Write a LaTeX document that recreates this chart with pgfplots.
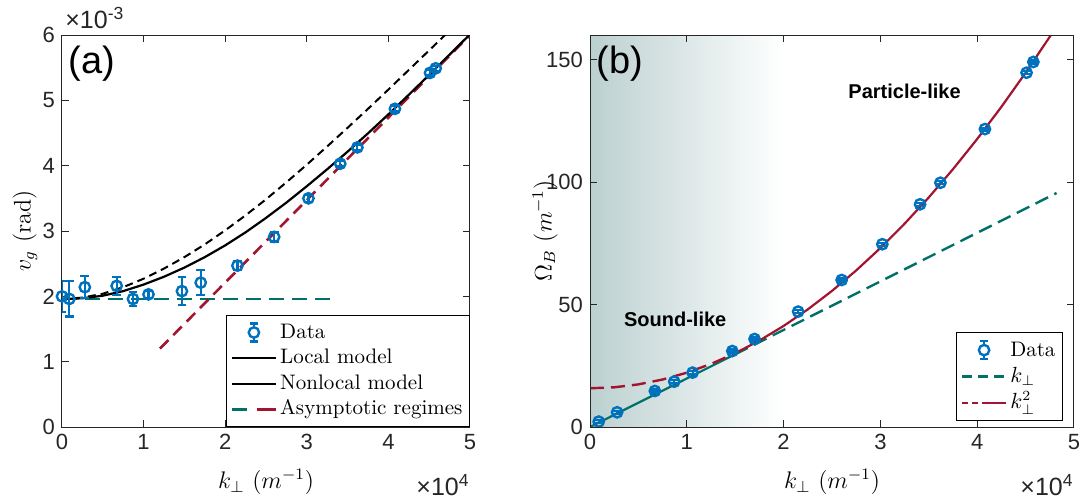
\documentclass[border=0pt]{standalone}
\usepackage{pgfplots}
\pgfplotsset{compat=1.18}
\usepackage{pgfplotstable}
\usepackage{fontspec}
\newfontfamily\helv{Liberation Sans}
\definecolor{mblue}{RGB}{0,114,189}
\definecolor{mred}{RGB}{162,20,47}
\definecolor{mgreen}{RGB}{0,112,104}
\definecolor{axgray}{RGB}{38,38,38}
\definecolor{bgc}{RGB}{188,208,208}

\pgfplotstableread{
k v e
0.00 2.00 0.24
0.09 1.96 0.27
0.28 2.14 0.17
0.67 2.16 0.14
0.87 1.96 0.11
1.06 2.03 0.05
1.47 2.08 0.21
1.70 2.21 0.19
2.15 2.47 0.07
2.60 2.91 0.07
3.02 3.50 0.05
3.41 4.03 0.04
3.62 4.28 0.04
4.08 4.87 0.04
4.51 5.42 0.04
4.58 5.49 0.04
}\dataA

\pgfplotstableread{
k v
0.00 1.960
0.25 1.970
0.50 2.010
0.75 2.080
1.00 2.180
1.25 2.300
1.50 2.440
1.75 2.600
2.00 2.780
2.25 2.980
2.50 3.200
2.75 3.435
3.00 3.685
3.25 3.945
3.50 4.215
3.75 4.495
4.00 4.785
4.25 5.085
4.50 5.390
4.75 5.700
5.00 6.010
}\localA

\pgfplotstableread{
k v
0.00 1.960
0.25 1.980
0.50 2.040
0.75 2.140
1.00 2.270
1.25 2.425
1.50 2.600
1.75 2.795
2.00 3.010
2.25 3.240
2.50 3.485
2.75 3.745
3.00 4.015
3.25 4.295
3.50 4.580
3.75 4.870
4.00 5.165
4.25 5.465
4.50 5.765
4.72 6.030
}\nonlocalA

\pgfplotstableread{
k w e
0.09 2.2 0.6
0.28 6.0 0.6
0.67 14.7 0.6
0.87 18.5 0.6
1.06 22.2 0.6
1.47 31.0 0.6
1.70 35.9 0.6
2.15 47.1 0.6
2.60 60.0 0.6
3.02 74.6 0.6
3.41 90.9 0.6
3.62 99.7 0.6
4.08 121.6 0.6
4.51 144.6 0.6
4.58 149.0 0.6
}\dataB

\pgfplotstableread{
k w
0.00 15.80
0.25 16.20
0.50 17.39
0.75 19.38
1.00 22.16
1.25 25.74
1.50 30.11
}\quadlow

\pgfplotstableread{
k w
1.50 30.11
1.75 35.28
2.00 41.24
2.25 48.00
2.50 55.55
2.75 63.90
3.00 73.04
3.25 82.98
3.50 93.71
3.75 105.24
4.00 117.56
4.25 130.68
4.50 144.59
4.75 159.30
4.80 162.30
}\quadhigh

\pgfplotsset{
  common/.style={
    scale only axis,
    anchor=south west,
    height=196pt,
    clip mode=individual,
    axis line style={axgray, line width=0.5pt},
    tick style={axgray, line width=0.5pt},
    major tick length=3.5pt,
    tick align=inside,
    ticklabel style={font=\helv\fontsize{11}{13}\selectfont, text=axgray},
    /pgf/number format/assume math mode=true,
    label style={font=\fontsize{12}{14}\selectfont},
    xlabel style={at={(axis description cs:0.5,0)}, anchor=center, yshift=-27.5pt},
    legend cell align=left,
    legend style={draw=black, line width=0.5pt, fill=white,
      font=\fontsize{10.5}{12}\selectfont,
      inner xsep=2pt, inner ysep=2.2pt, row sep=0pt,
      nodes={inner xsep=1.5pt, inner ysep=0pt, text height=9.2pt, text depth=3.6pt}},
  },
  datalegend/.style={legend image code/.code={
    \draw[mblue, line width=1.1pt] (11pt,-4.5pt) -- (11pt,4.5pt);
    \draw[mblue, line width=1.1pt] (9pt,-4.5pt) -- (13pt,-4.5pt);
    \draw[mblue, line width=1.1pt] (9pt,4.5pt) -- (13pt,4.5pt);
    \draw[mblue, line width=1.2pt, fill=white] (11pt,0pt) circle (2.6pt);
  }},
}

\begin{document}
\begin{tikzpicture}
\useasboundingbox (0,0) rectangle (541.5pt,249.5pt);

% ---------------- panel (a)
\begin{axis}[common, at={(31pt,36pt)}, width=204pt,
  xmin=0, xmax=5, ymin=0, ymax=6,
  xtick={0,1,2,3,4,5}, ytick={0,1,2,3,4,5,6},
  xlabel={$k_\perp\ (m^{-1})$},
  ylabel={$v_g\ (\mathrm{rad})$},
  ylabel style={at={(axis description cs:-0.0907,0.5)}, anchor=center},
  legend style={at={(axis description cs:1,0)}, anchor=south east},
]
\addplot[mgreen, line width=1.3pt, dash pattern=on 7.5pt off 4pt, forget plot]
  coordinates {(0,1.96) (3.37,1.96)};
\addplot[mred, line width=1.3pt, dash pattern=on 6pt off 3.5pt, forget plot]
  coordinates {(1.2,1.2) (5.0,6.0)};
\addplot[black, line width=1pt, dash pattern=on 4pt off 2.5pt, forget plot]
  table[x=k, y=v] {\nonlocalA};
\addplot[black, line width=1.1pt, forget plot]
  table[x=k, y=v] {\localA};
\addplot[mblue, line width=1.2pt, only marks, mark=o, mark size=2.6pt, forget plot,
  error bars/.cd, y dir=both, y explicit,
  error bar style={line width=1.1pt, mblue},
  error mark options={mblue, line width=1.1pt, mark size=2.2pt, rotate=90}]
  table[x=k, y=v, y error=e] {\dataA};

\addlegendimage{datalegend}
\addlegendentry{Data}
\addlegendimage{legend image code/.code={\draw[black, line width=1.1pt] (0pt,0pt) -- (22pt,0pt);}}
\addlegendentry{Local model}
\addlegendimage{legend image code/.code={\draw[black, line width=1.1pt] (0pt,0pt) -- (22pt,0pt);}}
\addlegendentry{Nonlocal model}
\addlegendimage{legend image code/.code={
  \draw[mgreen, line width=1.3pt] (0pt,0pt) -- (7.5pt,0pt);
  \draw[mred, line width=1.3pt] (12.5pt,0pt) -- (22pt,0pt);}}
\addlegendentry{Asymptotic regimes}

\node[anchor=north west, inner sep=0pt, font=\helv\fontsize{19}{21}\selectfont]
  at (rel axis cs:0,1) [xshift=3pt, yshift=-5.5pt] {(a)};
\node[anchor=base west, inner sep=0pt, font=\helv\fontsize{12.5}{14}\selectfont, text=axgray]
  at (rel axis cs:0,1) [xshift=1.5pt, yshift=3.5pt] {×10\textsuperscript{-3}};
\node[anchor=base east, inner sep=0pt, font=\helv\fontsize{12.5}{14}\selectfont, text=axgray]
  at (rel axis cs:1,0) [yshift=-34pt] {×10\textsuperscript{4}};
\end{axis}

% ---------------- panel (b)
\begin{axis}[common, at={(295pt,36pt)}, width=242pt,
  axis on top,
  xmin=0, xmax=5, ymin=0, ymax=160,
  xtick={0,1,2,3,4,5}, ytick={0,50,100,150},
  xlabel={$k_\perp\ (m^{-1})$},
  ylabel={$\Omega_B\ (m^{-1})$},
  ylabel style={at={(axis description cs:-0.093,0.5)}, anchor=center},
  legend style={at={(axis description cs:1,0)}, anchor=south east, xshift=-5.5pt, yshift=3pt,
    nodes={text height=9.6pt, text depth=3.6pt}},
]
\addplot[draw=none, left color=bgc, right color=white, forget plot]
  coordinates {(0,160) (2,160)} \closedcycle;
\addplot[mgreen, line width=1.2pt, dash pattern=on 7pt off 3.5pt, forget plot]
  coordinates {(1.5,29.7) (4.82,95.5)};
\addplot[mgreen, line width=1.1pt, forget plot]
  coordinates {(0,0) (1.5,29.7)};
\addplot[mred, line width=1.2pt, dash pattern=on 7pt off 3.5pt, forget plot]
  table[x=k, y=w] {\quadlow};
\addplot[mred, line width=1.1pt, forget plot]
  table[x=k, y=w] {\quadhigh};
\addplot[mblue, line width=1.2pt, only marks, mark=o, mark size=2.6pt, forget plot,
  error bars/.cd, y dir=both, y explicit,
  error bar style={line width=1.1pt, mblue},
  error mark options={mblue, line width=1.1pt, mark size=2.2pt, rotate=90}]
  table[x=k, y=w, y error=e] {\dataB};

\addlegendimage{datalegend}
\addlegendentry{Data}
\addlegendimage{legend image code/.code={
  \draw[mgreen, line width=1.2pt, dash pattern=on 5pt off 3pt] (0pt,0pt) -- (22pt,0pt);}}
\addlegendentry{$k_\perp$}
\addlegendimage{legend image code/.code={
  \draw[mred, line width=1.2pt, dash pattern=on 3pt off 2pt] (0pt,0pt) -- (8pt,0pt);
  \draw[mred, line width=1.2pt] (10pt,0pt) -- (22pt,0pt);}}
\addlegendentry{$k_\perp^2$}

\node[anchor=center, font=\helv\bfseries\fontsize{10}{12}\selectfont]
  at (axis cs:3.25,137) {Particle-like};
\node[anchor=center, font=\helv\bfseries\fontsize{10}{12}\selectfont]
  at (axis cs:0.88,44) {Sound-like};
\node[anchor=north west, inner sep=0pt, font=\helv\fontsize{19}{21}\selectfont]
  at (rel axis cs:0,1) [xshift=3pt, yshift=-5.5pt] {(b)};
\node[anchor=base east, inner sep=0pt, font=\helv\fontsize{12.5}{14}\selectfont, text=axgray]
  at (rel axis cs:1,0) [yshift=-34pt] {×10\textsuperscript{4}};
\end{axis}
\end{tikzpicture}
\end{document}
